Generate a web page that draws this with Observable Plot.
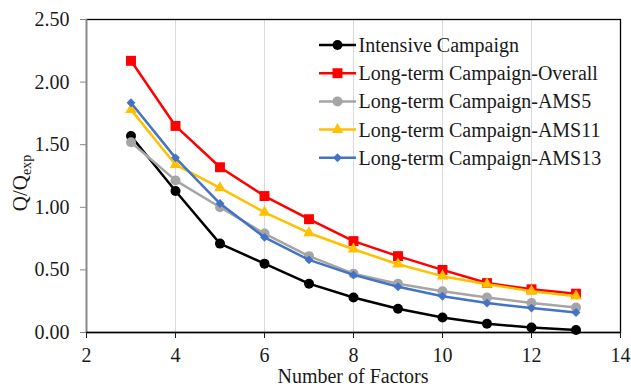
<!DOCTYPE html>
<html>
<head>
<meta charset="utf-8">
<script src="https://cdn.jsdelivr.net/npm/d3@7"></script>
<script src="https://cdn.jsdelivr.net/npm/@observablehq/plot@0.6"></script>
<style>
  html, body { margin: 0; padding: 0; background: white; }
  #chart { width: 631px; height: 388px; }
</style>
</head>
<body>
<div id="chart"></div>
<script>
const factors = [3, 4, 5, 6, 7, 8, 9, 10, 11, 12, 13];
const intensive = [1.57, 1.13, 0.71, 0.55, 0.39, 0.28, 0.19, 0.12, 0.07, 0.04, 0.02];
const overall   = [2.17, 1.65, 1.32, 1.09, 0.905, 0.73, 0.61, 0.50, 0.395, 0.345, 0.31];
const ams5      = [1.52, 1.215, 1.00, 0.79, 0.61, 0.47, 0.39, 0.33, 0.28, 0.235, 0.20];
const ams11     = [1.78, 1.34, 1.155, 0.96, 0.795, 0.665, 0.545, 0.45, 0.385, 0.33, 0.29];
const ams13     = [1.835, 1.395, 1.03, 0.76, 0.58, 0.46, 0.365, 0.29, 0.235, 0.195, 0.16];

const seriesNames = [
  "Intensive Campaign",
  "Long-term Campaign-Overall",
  "Long-term Campaign-AMS5",
  "Long-term Campaign-AMS11",
  "Long-term Campaign-AMS13"
];
const seriesValues = [intensive, overall, ams5, ams11, ams13];
const seriesColors = ["#000000", "#FF0000", "#A5A5A5", "#FFC000", "#4472C4"];
const seriesSymbols = ["circle", "square", "circle", "triangle", "diamond2"];
const seriesR = [5, 5.6, 5, 4.3, 4];

const xTicks = [2, 4, 6, 8, 10, 12, 14];
const yTicks = [0, 0.5, 1.0, 1.5, 2.0, 2.5];
const gridTicks = [4, 6, 8, 10, 12];

const FONT = "Liberation Serif";

const marks = [
  Plot.gridX(gridTicks, {stroke: "#d9d9d9", strokeOpacity: 1, strokeWidth: 1}),
  Plot.frame({stroke: "#000", strokeWidth: 1.3}),
  Plot.ruleX([2], {stroke: "#868686", strokeWidth: 1.5}),
  Plot.ruleY([0], {stroke: "#000", strokeWidth: 1.3}),
  Plot.axisY({ticks: yTicks, tickFormat: d3.format(".2f"), tickSize: 6, tickPadding: 11, label: null, stroke: "#868686"}),
  Plot.axisX({ticks: xTicks, tickSize: 6, tickPadding: 9.5, label: null})
];

seriesNames.forEach((name, i) => {
  const rows = factors.map((f, j) => ({x: f, y: seriesValues[i][j], series: name}));
  marks.push(Plot.line(rows, {x: "x", y: "y", stroke: seriesColors[i], strokeWidth: 2.5}));
  marks.push(Plot.dot(rows, {x: "x", y: "y", fill: seriesColors[i], symbol: seriesSymbols[i], r: seriesR[i], stroke: "none"}));
});

const plot = Plot.plot({
  width: 631,
  height: 388,
  marginTop: 19,
  marginRight: 11,
  marginBottom: 56,
  marginLeft: 86,
  x: {domain: [2, 14]},
  y: {domain: [0, 2.5]},
  style: {fontSize: "20px", color: "#1a1a1a", background: "white"},
  marks
});

const svg = d3.select(plot);

// Axis titles
svg.append("text")
  .attr("x", (86 + 620) / 2)
  .attr("y", 382.5)
  .attr("text-anchor", "middle")
  .attr("fill", "#1a1a1a")
  .attr("font-size", 20)
  .text("Number of Factors");

const yl = svg.append("text")
  .attr("transform", "translate(27,183) rotate(-90)")
  .attr("text-anchor", "middle")
  .attr("fill", "#1a1a1a")
  .attr("font-size", 21);
yl.append("tspan").text("Q/Q");
yl.append("tspan").attr("dy", "0.3em").attr("font-size", 14).text("exp");

// Legend
const lg = svg.append("g").attr("font-size", 20).attr("text-anchor", "start");
seriesNames.forEach((name, i) => {
  const cy = 45 + i * 28.2;
  const g = lg.append("g").attr("transform", `translate(0,${cy})`);
  g.append("line").attr("x1", 319).attr("x2", 356).attr("y1", 0).attr("y2", 0)
    .attr("stroke", seriesColors[i]).attr("stroke-width", 2.5);
  const symType = {circle: d3.symbolCircle, square: d3.symbolSquare, triangle: d3.symbolTriangle, diamond2: d3.symbolDiamond2}[seriesSymbols[i]];
  g.append("path").attr("transform", "translate(337.5,0)")
    .attr("d", d3.symbol(symType, Math.PI * seriesR[i] * seriesR[i])())
    .attr("fill", seriesColors[i]);
  g.append("text").attr("x", 358.5).attr("y", 0).attr("dy", "0.35em")
    .attr("text-anchor", "start")
    .attr("fill", "#1a1a1a").text(name);
});

// Force serif font on every text element
svg.attr("font-family", FONT).style("font-family", FONT);
svg.selectAll("g").attr("font-family", FONT);
svg.selectAll("text").attr("font-family", FONT).style("font-family", FONT);

document.getElementById("chart").appendChild(plot);
</script>
</body>
</html>
